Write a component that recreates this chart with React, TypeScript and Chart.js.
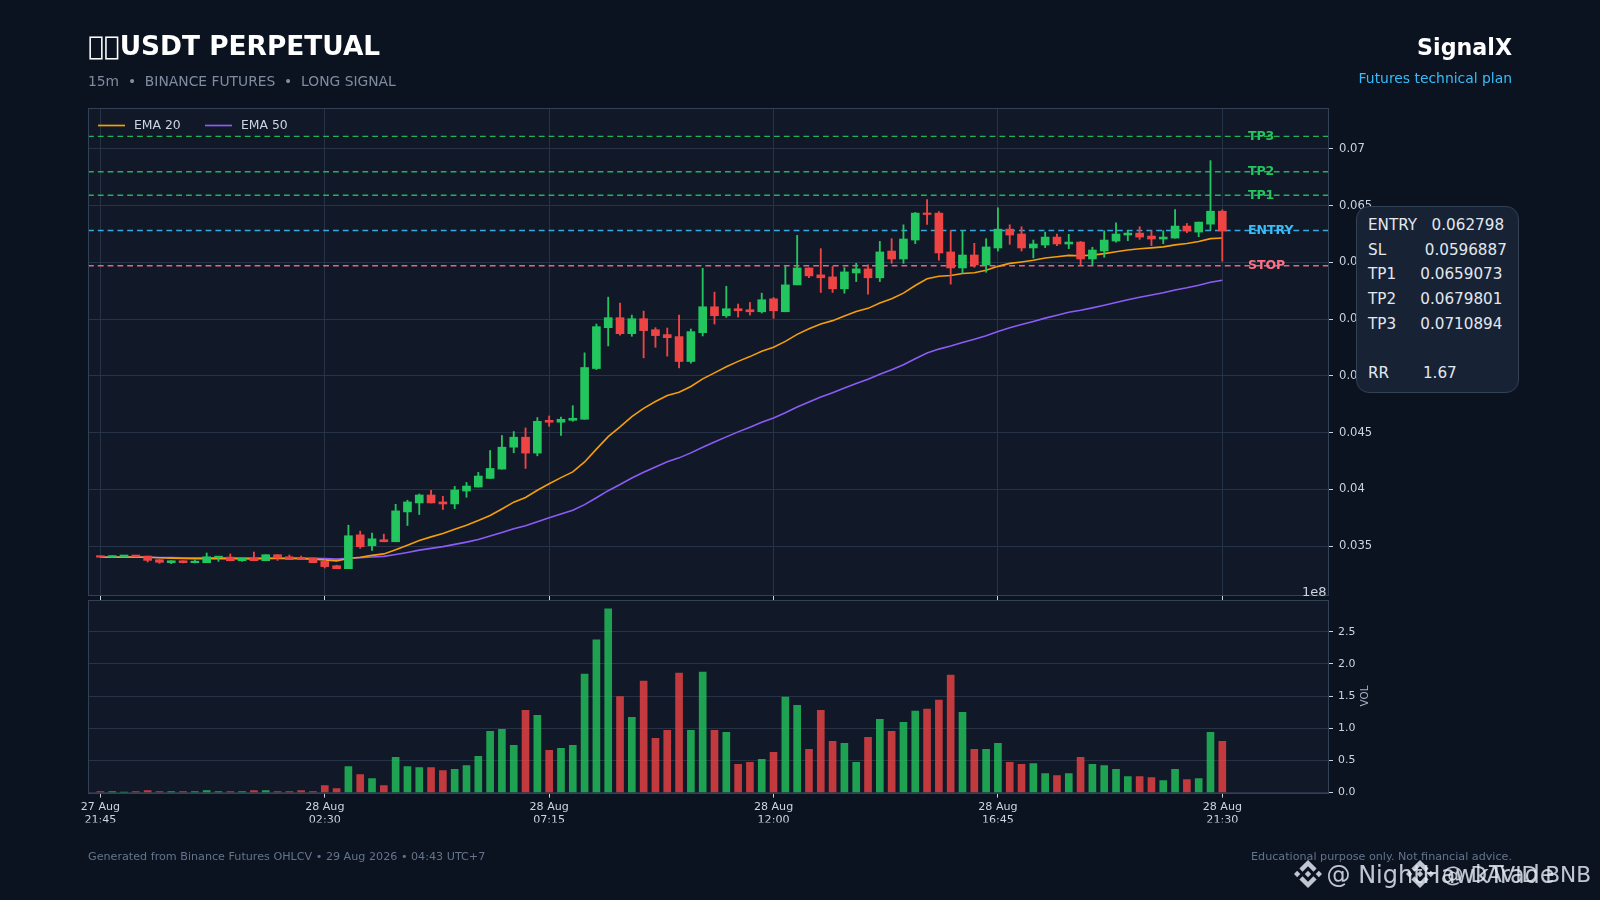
import React, { useEffect, useRef } from "react";
import { Chart, registerables } from "chart.js";

Chart.register(...registerables);

const opens = [0.0341,0.03403,0.03408,0.03411,0.03412,0.0338,0.03354,0.03371,0.03354,0.03354,0.03398,0.03403,0.03371,0.03395,0.03371,0.03424,0.03406,0.034,0.03395,0.03365,0.03327,0.03301,0.03599,0.03503,0.03556,0.03538,0.03801,0.0388,0.0395,0.03889,0.03871,0.03985,0.0402,0.04096,0.04178,0.04371,0.04459,0.04319,0.04608,0.04591,0.04608,0.04617,0.05064,0.05424,0.05512,0.05371,0.05503,0.05406,0.05363,0.05345,0.05126,0.0538,0.05608,0.05529,0.05591,0.05582,0.05564,0.05678,0.05564,0.05801,0.0595,0.05889,0.05871,0.05766,0.05906,0.05942,0.05863,0.06099,0.06029,0.06196,0.06433,0.06433,0.06091,0.0595,0.06064,0.05977,0.06126,0.06292,0.06249,0.06126,0.06152,0.06222,0.06161,0.06178,0.06029,0.06099,0.06187,0.0624,0.06257,0.06231,0.06205,0.06213,0.06319,0.06266,0.06336,0.0645];
const highs = [0.03412,0.03415,0.03413,0.03415,0.03412,0.0338,0.03371,0.03371,0.03377,0.03439,0.03406,0.0343,0.03392,0.03447,0.03424,0.03424,0.03421,0.03412,0.03395,0.0338,0.03332,0.03684,0.03632,0.03614,0.03605,0.03868,0.03904,0.03959,0.03991,0.03939,0.04026,0.04061,0.04149,0.04342,0.04474,0.04509,0.04541,0.04632,0.04646,0.04637,0.04737,0.05202,0.05456,0.05693,0.0564,0.05535,0.0557,0.05424,0.05421,0.05535,0.05412,0.05947,0.05737,0.05789,0.05632,0.05646,0.05728,0.0569,0.05962,0.06237,0.0595,0.0612,0.05962,0.05953,0.05991,0.05977,0.06184,0.06208,0.0633,0.06439,0.06553,0.06447,0.06278,0.06278,0.06167,0.06208,0.0648,0.0633,0.06313,0.06196,0.06266,0.06249,0.06246,0.06184,0.06132,0.06278,0.06348,0.06278,0.06313,0.06278,0.06278,0.06465,0.06342,0.06354,0.06895,0.06462];
const lows = [0.034,0.034,0.03405,0.03406,0.0336,0.03348,0.03345,0.03352,0.03352,0.03354,0.03365,0.03371,0.03365,0.03371,0.03371,0.03374,0.0338,0.0338,0.03354,0.03307,0.03301,0.03301,0.0348,0.03462,0.03538,0.03538,0.03681,0.03778,0.0388,0.03822,0.0383,0.0393,0.0402,0.04096,0.04178,0.04322,0.04184,0.04295,0.04556,0.04474,0.04599,0.04617,0.05055,0.05263,0.05357,0.05348,0.05158,0.05251,0.05173,0.0507,0.05111,0.05351,0.05456,0.05515,0.05518,0.05535,0.05553,0.05506,0.05564,0.05801,0.05865,0.05734,0.05734,0.05728,0.0583,0.0572,0.0583,0.05991,0.05991,0.06164,0.06333,0.06018,0.05807,0.05904,0.05956,0.05912,0.06099,0.06158,0.06099,0.06038,0.06129,0.06146,0.0612,0.05974,0.05974,0.06044,0.06178,0.0619,0.06202,0.06146,0.06164,0.06213,0.0626,0.06225,0.06284,0.06009];
const closes = [0.03402,0.0341,0.03411,0.03408,0.03374,0.03357,0.03371,0.03354,0.03363,0.03406,0.03406,0.03371,0.03392,0.03371,0.03424,0.03395,0.0338,0.0338,0.03354,0.03319,0.03301,0.03591,0.03494,0.03564,0.03538,0.0381,0.03889,0.0395,0.0388,0.03871,0.03994,0.04029,0.04117,0.04184,0.04371,0.04459,0.04319,0.04599,0.04591,0.04617,0.04626,0.05073,0.05433,0.05512,0.05371,0.05503,0.05398,0.05354,0.05336,0.05126,0.05389,0.05608,0.05529,0.05591,0.05573,0.05564,0.0567,0.05573,0.05801,0.0595,0.0588,0.05863,0.05766,0.05915,0.05942,0.05863,0.06091,0.06029,0.06205,0.06433,0.06421,0.06082,0.0595,0.06064,0.05977,0.06135,0.06292,0.0624,0.06126,0.06161,0.06222,0.06161,0.06178,0.06029,0.06108,0.06196,0.06249,0.06257,0.06222,0.06205,0.06222,0.06319,0.06275,0.06354,0.0645,0.06275];
const ema20 = [0.03402,0.03403,0.03404,0.03404,0.03401,0.03397,0.03394,0.0339,0.03388,0.03389,0.03391,0.03389,0.03389,0.03387,0.03391,0.03391,0.0339,0.03389,0.03385,0.03378,0.0337,0.03391,0.03402,0.03418,0.03431,0.03467,0.03507,0.03549,0.03581,0.03611,0.03648,0.03684,0.03726,0.0377,0.03827,0.03887,0.03928,0.03992,0.04049,0.04103,0.04153,0.04241,0.04354,0.04464,0.0455,0.04641,0.04713,0.04774,0.04827,0.04855,0.04906,0.04973,0.05026,0.0508,0.05127,0.05169,0.05217,0.05251,0.05303,0.05365,0.05414,0.05457,0.05486,0.05527,0.05566,0.05594,0.05641,0.05678,0.05728,0.05795,0.05855,0.05877,0.05884,0.05901,0.05908,0.0593,0.05964,0.0599,0.06003,0.06018,0.06037,0.06049,0.06061,0.06058,0.06063,0.06076,0.06092,0.06108,0.06119,0.06127,0.06136,0.06153,0.06165,0.06183,0.06208,0.06214];
const ema50 = [0.03402,0.03402,0.03402,0.03403,0.03402,0.034,0.03399,0.03397,0.03396,0.03396,0.03396,0.03395,0.03395,0.03394,0.03395,0.03395,0.03394,0.03394,0.03392,0.03389,0.03385,0.03393,0.03397,0.03404,0.03409,0.03426,0.03444,0.03464,0.0348,0.03495,0.03515,0.03535,0.03558,0.03589,0.0362,0.03653,0.03679,0.03715,0.03749,0.03783,0.03816,0.03865,0.03926,0.03988,0.04042,0.04099,0.0415,0.04197,0.04242,0.04277,0.04321,0.04371,0.04416,0.04462,0.04506,0.04547,0.04591,0.04629,0.04675,0.04725,0.0477,0.04813,0.0485,0.04892,0.04933,0.04969,0.05013,0.05053,0.05098,0.0515,0.052,0.05235,0.05263,0.05294,0.05321,0.05353,0.0539,0.05423,0.05451,0.05479,0.05508,0.05534,0.05559,0.05577,0.05598,0.05621,0.05646,0.0567,0.05692,0.05712,0.05732,0.05755,0.05775,0.05798,0.05824,0.05842];
const volumes = [0.016,0.016,0.004,0.016,0.03,0.016,0.016,0.016,0.016,0.03,0.016,0.016,0.016,0.03,0.03,0.016,0.016,0.03,0.016,0.11,0.063,0.406,0.281,0.219,0.11,0.547,0.406,0.39,0.39,0.344,0.36,0.42,0.563,0.953,0.984,0.734,1.281,1.203,0.656,0.688,0.734,1.844,2.375,2.859,1.495,1.172,1.734,0.844,0.969,1.859,0.969,1.875,0.969,0.938,0.438,0.469,0.516,0.625,1.484,1.359,0.672,1.281,0.797,0.766,0.469,0.859,1.14,0.953,1.094,1.266,1.297,1.438,1.828,1.25,0.672,0.672,0.766,0.469,0.438,0.453,0.297,0.266,0.297,0.547,0.438,0.422,0.36,0.25,0.25,0.234,0.188,0.36,0.203,0.219,0.938,0.797];

const xLimits = [-1.05, 103.95];
const xTickIndex = [0, 19, 38, 57, 76, 95];
const xTickDates = ["27 Aug", "28 Aug", "28 Aug", "28 Aug", "28 Aug", "28 Aug"];
const xTickTimes = ["21:45", "02:30", "07:15", "12:00", "16:45", "21:30"];
const priceTicks = [0.035, 0.04, 0.045, 0.05, 0.055, 0.06, 0.065, 0.07];
const priceLimits = [0.03069, 0.07359];
const volumeTicks = [0, 0.5, 1, 1.5, 2, 2.5];
const volumeLimits = [0, 2.995];
const levelNames = ["TP3", "TP2", "TP1", "ENTRY", "STOP"];
const levelValues = [0.0710894, 0.0679801, 0.0659073, 0.062798, 0.0596887];
const levelColors = ["#22c55e", "#22c55e", "#22c55e", "#38bdf8", "#fb7185"];
const legendNames = ["EMA 20", "EMA 50"];
const planRows = ["ENTRY   0.062798", "SL        0.0596887", "TP1     0.0659073", "TP2     0.0679801", "TP3     0.0710894", " ", "RR       1.67"];

const FONT = '"DejaVu Sans"';
const PANEL = "#111827";
const GRID = "#263245";
const SPINE = "#334155";
const TICK = "#cbd5e1";
const UP = "#22c55e";
const DOWN = "#ef4444";
const UP_VOL = "rgba(34,197,94,0.8)";
const DOWN_VOL = "rgba(239,68,68,0.8)";
const ORANGE = "#f59e0b";
const PURPLE = "#8b5cf6";

const isUp = closes.map((c, i) => c >= opens[i]);

const panelPlugin = {
  id: "panel",
  beforeDraw(chart: any) {
    const { ctx, chartArea: a } = chart;
    ctx.save();
    ctx.fillStyle = PANEL;
    ctx.fillRect(a.left, a.top, a.right - a.left, a.bottom - a.top);
    ctx.restore();
  },
  afterDraw(chart: any) {
    const { ctx, chartArea: a } = chart;
    ctx.save();
    ctx.strokeStyle = SPINE;
    ctx.lineWidth = 1;
    ctx.strokeRect(Math.round(a.left) + 0.5, Math.round(a.top) + 0.5, Math.round(a.right - a.left), Math.round(a.bottom - a.top));
    ctx.restore();
  },
};

const levelLabelPlugin = {
  id: "levelLabels",
  afterDatasetsDraw(chart: any) {
    const { ctx, scales } = chart;
    ctx.save();
    ctx.font = `bold 12.5px ${FONT}`;
    ctx.textBaseline = "middle";
    ctx.textAlign = "left";
    levelNames.forEach((name, i) => {
      ctx.fillStyle = levelColors[i];
      ctx.fillText(name, scales.x.getPixelForValue(97.17), scales.y.getPixelForValue(levelValues[i]) + 0.3);
    });
    ctx.restore();
  },
};

const lineLegendPlugin = {
  id: "lineLegend",
  afterDraw(chart: any) {
    const { ctx, chartArea: a } = chart;
    const y = a.top + 17.5;
    const x0 = [a.left + 10, a.left + 117];
    ctx.save();
    ctx.font = `12.4px ${FONT}`;
    ctx.textBaseline = "middle";
    legendNames.forEach((name, i) => {
      ctx.strokeStyle = i === 0 ? ORANGE : PURPLE;
      ctx.lineWidth = 1.7;
      ctx.beginPath();
      ctx.moveTo(x0[i], y);
      ctx.lineTo(x0[i] + 27, y);
      ctx.stroke();
      ctx.fillStyle = TICK;
      ctx.fillText(name, x0[i] + 36, y + 0.5);
    });
    ctx.restore();
  },
};

function setXTicks(scale: any) {
  scale.ticks = xTickIndex.map((value) => ({ value }));
}

function App() {
  const priceRef = useRef<HTMLCanvasElement>(null);
  const volRef = useRef<HTMLCanvasElement>(null);

  useEffect(() => {
    document.documentElement.style.background = "#0b1220";
    document.body.style.margin = "0";
    document.body.style.background = "#0b1220";
    Chart.defaults.font.family = FONT;

    const levelSets = levelNames.map((name, i) => ({
      type: "line",
      label: name,
      data: xLimits.map((x) => ({ x, y: levelValues[i] })),
      borderColor: levelColors[i] + "e6",
      borderWidth: 1.4,
      borderDash: [5.8, 4],
      pointRadius: 0,
      order: 6,
    }));

    const price = new Chart(priceRef.current as any, {
      type: "bar",
      data: {
        datasets: [
          {
            type: "bar",
            label: "Body",
            data: opens.map((o, i) => ({ x: i, y: [o, closes[i]] })),
            backgroundColor: isUp.map((u) => (u ? UP : DOWN)),
            barThickness: 8,
            minBarLength: 1.5,
            grouped: false,
            order: 1,
          },
          {
            type: "bar",
            label: "Wick",
            data: lows.map((l, i) => ({ x: i, y: [l, highs[i]] })),
            backgroundColor: isUp.map((u) => (u ? UP : DOWN)),
            barThickness: 1.2,
            grouped: false,
            order: 2,
          },
          {
            type: "line",
            label: "EMA 20",
            data: ema20.map((y, x) => ({ x, y })),
            borderColor: ORANGE,
            borderWidth: 1.6,
            pointRadius: 0,
            order: 3,
          },
          {
            type: "line",
            label: "EMA 50",
            data: ema50.map((y, x) => ({ x, y })),
            borderColor: PURPLE,
            borderWidth: 1.6,
            pointRadius: 0,
            order: 4,
          },
          ...levelSets,
        ] as any,
      },
      options: {
        responsive: false,
        animation: false,
        devicePixelRatio: 1,
        layout: { autoPadding: false, padding: { left: 88, top: 108, right: 192, bottom: 300 } },
        plugins: { legend: { display: false }, tooltip: { enabled: false } },
        scales: {
          x: {
            type: "linear",
            min: xLimits[0],
            max: xLimits[1],
            offset: false,
            afterBuildTicks: setXTicks,
            afterFit: (s: any) => { s.height = 5; },
            border: { display: false },
            grid: { offset: false, color: GRID, tickColor: TICK, tickLength: 5 },
            ticks: { display: false, autoSkip: false, maxRotation: 0 },
          },
          y: {
            position: "right",
            min: priceLimits[0],
            max: priceLimits[1],
            afterBuildTicks: (s: any) => { s.ticks = priceTicks.map((value) => ({ value })); },
            afterFit: (s: any) => { s.width = 80; },
            border: { display: false },
            grid: { color: GRID, tickColor: TICK, tickLength: 5 },
            ticks: { color: TICK, padding: 6, font: { size: 11.6 }, autoSkip: false, callback: (v: any) => String(v) },
          },
        } as any,
      },
      plugins: [panelPlugin, levelLabelPlugin, lineLegendPlugin],
    } as any);

    const vol = new Chart(volRef.current as any, {
      type: "bar",
      data: {
        datasets: [
          {
            label: "Volume",
            data: volumes.map((y, x) => ({ x, y })),
            backgroundColor: isUp.map((u) => (u ? UP_VOL : DOWN_VOL)),
            barThickness: 7,
            grouped: false,
          },
        ] as any,
      },
      options: {
        responsive: false,
        animation: false,
        devicePixelRatio: 1,
        layout: { autoPadding: false, padding: { left: 88, top: 600, right: 192, bottom: 77.4 } },
        plugins: { legend: { display: false }, tooltip: { enabled: false } },
        scales: {
          x: {
            type: "linear",
            min: xLimits[0],
            max: xLimits[1],
            offset: false,
            afterBuildTicks: setXTicks,
            afterFit: (s: any) => { s.height = 30; },
            border: { display: false },
            grid: { offset: false, drawOnChartArea: false, tickColor: TICK, tickLength: 5 },
            ticks: {
              color: TICK,
              padding: 3,
              font: { size: 11.1 },
              autoSkip: false,
              maxRotation: 0,
              callback: (_v: any, i: number) => [xTickDates[i], xTickTimes[i]],
            },
          },
          y: {
            position: "right",
            min: volumeLimits[0],
            max: volumeLimits[1],
            afterBuildTicks: (s: any) => { s.ticks = volumeTicks.map((value) => ({ value })); },
            afterFit: (s: any) => { s.width = 80; },
            border: { display: false },
            grid: { color: GRID, tickColor: TICK, tickLength: 5 },
            ticks: { color: TICK, padding: 5, font: { size: 10.9 }, autoSkip: false, callback: (v: any) => Number(v).toFixed(1) },
          },
        } as any,
      },
      plugins: [panelPlugin],
    } as any);

    return () => {
      price.destroy();
      vol.destroy();
    };
  }, []);

  const abs = (s: React.CSSProperties): React.CSSProperties => ({ position: "absolute", whiteSpace: "pre", fontFamily: FONT, lineHeight: 1, ...s });
  const canvasStyle: React.CSSProperties = { position: "absolute", left: 0, top: 0, width: 1600, height: 900 };

  const logo = (cx: number) => (
    <svg style={{ position: "absolute", left: cx - 14, top: 860, width: 28, height: 28 }} viewBox="0 0 126.61 126.61" fill="rgba(226,232,240,0.85)">
      <path d="M38.73 53.2l24.59-24.58 24.6 24.6 14.3-14.31L63.32 0 24.43 38.9z" />
      <path d="M0 63.31l14.3-14.31 14.31 14.31-14.31 14.3z" />
      <path d="M38.73 73.41l24.59 24.59 24.6-24.6 14.31 14.29-38.91 38.92-38.89-38.9z" />
      <path d="M98.01 63.31l14.3-14.31 14.3 14.3-14.3 14.32z" />
      <path d="M77.83 63.3L63.32 48.78 48.81 63.28l14.51 14.5z" />
    </svg>
  );

  return (
    <div style={{ position: "fixed", left: 0, top: 0, width: 1600, height: 900, overflow: "hidden", background: "#0b1220" }}>
      <canvas ref={priceRef} width={1600} height={900} style={canvasStyle} />
      <canvas ref={volRef} width={1600} height={900} style={canvasStyle} />

      <div style={abs({ left: 88, top: 33, fontSize: 26.4, fontWeight: 700, color: "#ffffff" })}>{"\uE000\uE000USDT PERPETUAL"}</div>
      <div style={abs({ left: 88, top: 75, fontSize: 13.85, color: "#94a3b8", opacity: 0.85 })}>15m  •  BINANCE FUTURES  •  LONG SIGNAL</div>
      <div style={abs({ right: 88, top: 36, fontSize: 22.2, fontWeight: 700, color: "#ffffff" })}>SignalX</div>
      <div style={abs({ right: 88, top: 72, fontSize: 13.9, color: "#38bdf8" })}>Futures technical plan</div>

      <div style={abs({ left: 1302, top: 585, fontSize: 13, color: TICK })}>1e8</div>
      <div style={abs({ left: 1364, top: 696, fontSize: 10.4, color: "#a3afc0", transform: "translate(-50%,-50%) rotate(-90deg)" })}>VOL</div>

      <div style={{ position: "absolute", left: 1356, top: 206, width: 163, height: 187, boxSizing: "border-box", borderRadius: 13, border: `1px solid ${SPINE}`, background: "#172235", overflow: "hidden" }}>
        {planRows.map((row, i) => (
          <div key={i} style={abs({ position: "absolute", left: 11, top: 6 + i * 24.65, height: 24.7, lineHeight: "24.7px", fontSize: 15.2, color: "#e2e8f0" })}>{row}</div>
        ))}
      </div>

      <div style={abs({ left: 88, top: 851, fontSize: 11.16, color: "#64748b" })}>Generated from Binance Futures OHLCV • 29 Aug 2026 • 04:43 UTC+7</div>
      <div style={abs({ right: 88, top: 851, fontSize: 11.16, color: "#64748b" })}>Educational purpose only. Not financial advice.</div>

      {logo(1308)}
      <div style={abs({ left: 1326.5, top: 863, fontSize: 24, color: "rgba(226,232,240,0.85)" })}>@ NightHawkTrade</div>
      {logo(1420)}
      <div style={abs({ left: 1442, top: 864, fontSize: 21.7, color: "rgba(226,232,240,0.85)" })}>@ DAVID BNB</div>
    </div>
  );
}

export default App;
